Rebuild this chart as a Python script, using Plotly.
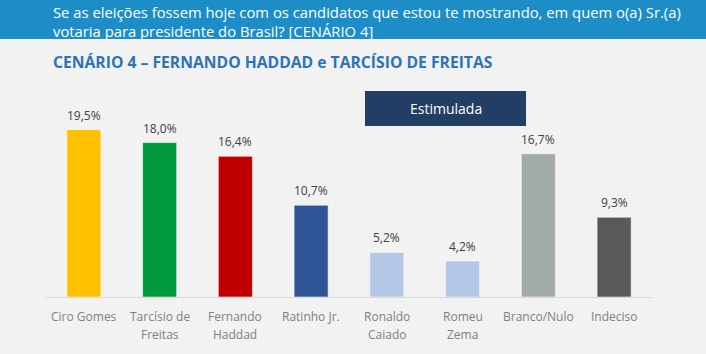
import plotly.graph_objects as go

W, H = 706, 354

categories = ["Ciro Gomes", "Tarcísio de<br>Freitas", "Fernando<br>Haddad", "Ratinho Jr.",
              "Ronaldo<br>Caiado", "Romeu<br>Zema", "Branco/Nulo", "Indeciso"]
values = [19.5, 18.0, 16.4, 10.7, 5.2, 4.2, 16.7, 9.3]
colors = ["#FFC000", "#009A3D", "#C00000", "#2F5597", "#B4C7E7", "#B4C7E7", "#A3ABA9", "#595959"]
labels = [f"{v:.1f}".replace(".", ",") + "%" for v in values]

header_lines = ["Se as eleições fossem hoje com os candidatos que estou te mostrando, em quem o(a) Sr.(a)",
                "votaria para presidente do Brasil? [CENÁRIO 4]"]
subtitle = "CENÁRIO 4 – FERNANDO HADDAD e TARCÍSIO DE FREITAS"
badge = "Estimulada"

FONT = "Open Sans"

def px_x(x):
    return x / W

def px_y(y):
    return 1 - y / H

fig = go.Figure(go.Bar(
    x=categories, y=values,
    marker=dict(color=colors, line=dict(color="rgba(255,255,255,0.55)", width=1)),
    width=0.45,
    hoverinfo="skip",
))

annotations = []
for c, v, t in zip(categories, values, labels):
    annotations.append(dict(x=c, y=v, xref="x", yref="y", text=t, showarrow=False,
                            yanchor="bottom", yshift=4,
                            font=dict(family=FONT, size=12, color="#404040")))
    for i, line in enumerate(c.split("<br>")):
        annotations.append(dict(x=c, y=px_y(316 + 18 * i), xref="x", yref="paper", text=line,
                                showarrow=False, yanchor="middle",
                                font=dict(family=FONT, size=12, color="#808080")))

for i, line in enumerate(header_lines):
    annotations.append(dict(x=px_x(51), y=px_y(12.5 + 19 * i), xref="paper", yref="paper", text=line,
                            showarrow=False, xanchor="left", yanchor="middle", align="left",
                            font=dict(family=FONT, size=14.8, color="white")))
annotations.append(dict(x=px_x(51), y=px_y(62), xref="paper", yref="paper",
                        text="<b>" + subtitle + "</b>", showarrow=False,
                        xanchor="left", yanchor="middle",
                        font=dict(family=FONT, size=15.7, color="#2E74B5")))
annotations.append(dict(x=px_x(445.5), y=px_y(108.5), xref="paper", yref="paper", text=badge,
                        showarrow=False, xanchor="center", yanchor="middle",
                        font=dict(family=FONT, size=14, color="white")))

shapes = [
    dict(type="rect", xref="paper", yref="paper", x0=0, x1=1, y0=px_y(39), y1=1,
         fillcolor="#1C8DC7", line=dict(width=0), layer="below"),
    dict(type="rect", xref="paper", yref="paper", x0=px_x(365), x1=px_x(526),
         y0=px_y(126), y1=px_y(91), fillcolor="#233E64", line=dict(width=0), layer="below"),
]

fig.update_layout(
    width=W, height=H,
    margin=dict(l=0, r=0, t=0, b=0),
    paper_bgcolor="#F2F2F2", plot_bgcolor="rgba(0,0,0,0)",
    showlegend=False,
    annotations=annotations, shapes=shapes,
    xaxis=dict(domain=[px_x(46), px_x(652)], showgrid=False, zeroline=False,
               showline=True, linecolor="#D9D9D9", linewidth=1,
               showticklabels=False, ticks=""),
    yaxis=dict(domain=[px_y(297), px_y(80)], range=[0, 217 / 8.58],
               showgrid=False, zeroline=False, showticklabels=False, showline=False),
)

fig.write_html("out.html")
